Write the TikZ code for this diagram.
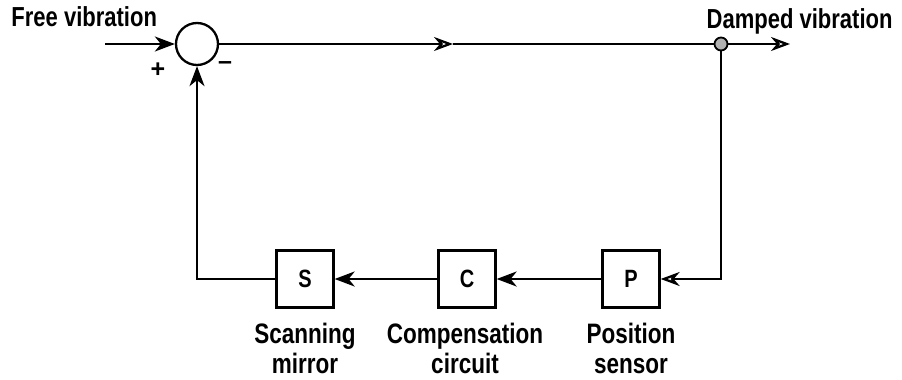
\documentclass[tikz,border=0pt]{standalone}
\usepackage{fontspec}
\setmainfont{Liberation Sans}
\usetikzlibrary{arrows.meta}
\newcommand{\tall}[1]{\scalebox{1}[1.25]{#1}}
\begin{document}
\begin{tikzpicture}[x=1pt,y=-1pt,
  line width=2.3pt,
  txt/.style={font=\bfseries\fontsize{22}{22}\selectfont},
  sign/.style={font=\bfseries\fontsize{25}{25}\selectfont},
  blk/.style={draw,minimum width=57pt,minimum height=57pt,inner sep=0pt,font=\bfseries\fontsize{20}{20}\selectfont},
  lbl/.style={align=center,anchor=base,font=\bfseries\fontsize{22.5}{30}\selectfont},
  fill tip/.style={-{Stealth[length=20pt,width=15pt,inset=6pt]}},
  open tip/.style={-{Stealth[open,length=19pt,width=14pt,inset=6pt]}}]
\useasboundingbox (0,0) rectangle (902,380);
% summing junction and pick-off point
\node[draw,circle,minimum size=42pt,inner sep=0pt] (sum) at (197,44) {};
\node[draw,circle,fill=gray!60,minimum size=13pt,inner sep=0pt,line width=1.8pt] (tap) at (721,44) {};
\coordinate (in) at (105,44);
\coordinate (out) at (790,44);
\coordinate (mid) at (453,44);
% blocks
\node[blk] (P) at (631,279) {\tall{P}};
\node[blk] (C) at (467,279) {\tall{C}};
\node[blk] (S) at (305,279) {\tall{S}};
% labels (the base anchor sits on the last line)
\node[anchor=base west,txt] (tin) at (7,27) {\tall{Free vibration}};
\node[anchor=base east,txt] (tout) at (897,28) {\tall{Damped vibration}};
\node[lbl] (lS) at (305,373) {\tall{Scanning}\\\tall{mirror}};
\node[lbl] (lC) at (465,373) {\tall{Compensation}\\\tall{circuit}};
\node[lbl] (lP) at (631,373) {\tall{Position}\\\tall{sensor}};
\node[sign] (plus) at (158,70) {+};
\node[sign] (minus) at (225,66) {\textendash};
% forward path
\draw[fill tip] (in) -- (sum.west);
\draw[open tip] (sum.east) -- (mid);
\draw (mid) -- (tap.west);
\draw[open tip] (tap.east) -- (out);
% feedback path
\draw[open tip] (tap.south) |- (P.east);
\draw[fill tip] (P.west) -- (C.east);
\draw[fill tip] (C.west) -- (S.east);
\draw[fill tip] (S.west) -| (sum.south);
\end{tikzpicture}
\end{document}
